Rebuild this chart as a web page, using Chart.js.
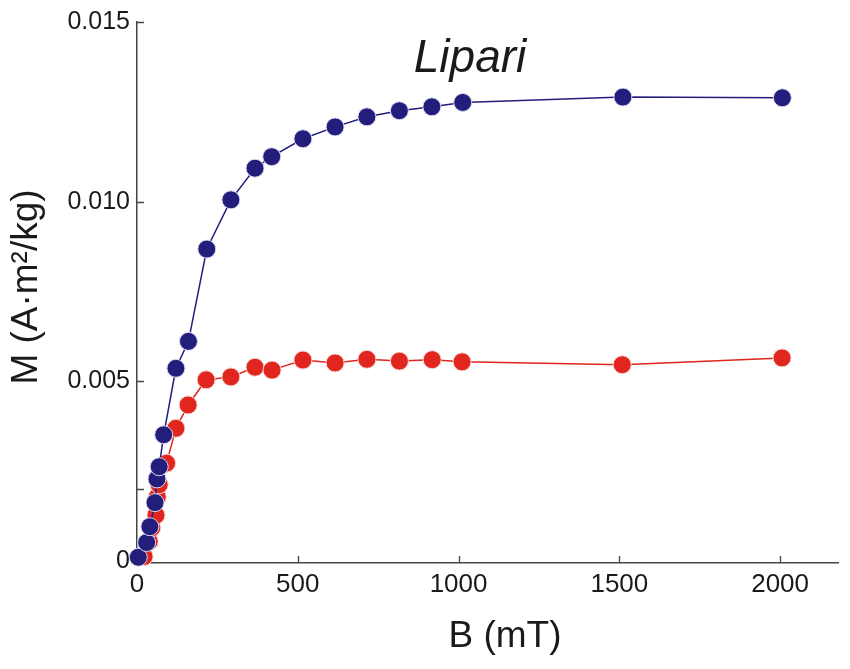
<!DOCTYPE html>
<html>
<head>
<meta charset="utf-8">
<script src="https://cdn.jsdelivr.net/npm/chart.js@4.4.1/dist/chart.umd.min.js"></script>
<style>
  html, body { margin: 0; padding: 0; background: #fff; }
  #wrap { width: 850px; height: 669px; position: relative; }
</style>
</head>
<body>
<div id="wrap"><canvas id="chart"></canvas></div>
<script>
// field values (mT) and magnetisation (A·m²/kg)
const fieldBlue = [4, 30, 40, 56, 62, 69, 83, 121, 160, 217, 292, 367, 419, 516, 616, 715, 816, 917, 1013, 1511, 2007];
const momentBlue = [0.0001, 0.00051, 0.00095, 0.00162, 0.00228, 0.00262, 0.00351, 0.00536, 0.00611, 0.00868, 0.01005,
  0.01093, 0.01125, 0.01175, 0.01208, 0.01236, 0.01253, 0.01264, 0.01276, 0.01291, 0.01289];
const fieldRed = [22, 38, 46, 59, 63, 69, 92, 121, 159, 215, 292, 367, 420, 516, 616, 715, 816, 918, 1011, 1509, 2006];
const momentRed = [0.00012, 0.00054, 0.00092, 0.00127, 0.00178, 0.00212, 0.00272, 0.00369, 0.00434, 0.00504, 0.00512,
  0.00539, 0.00531, 0.00559, 0.00551, 0.00561, 0.00556, 0.00560, 0.00554, 0.00546, 0.00565];

const xTicks = [0, 500, 1000, 1500, 2000];
const yTicks = [0, 0.002, 0.005, 0.010, 0.015];
const yLabelled = [0, 0.005, 0.010, 0.015];

const titleText = 'Lipari';
const xTitle = 'B (mT)';
const yTitle = 'M (A\u00b7m\u00b2/kg)';

const FONT = "'Liberation Sans', Arial, sans-serif";
const AXIS = '#444';

const toPoints = (xs, ys) => xs.map((x, i) => ({ x: x, y: ys[i] }));

// inward tick marks + texts drawn on the canvas
const extras = {
  id: 'extras',
  beforeDatasetsDraw(chart) {
    const { ctx, scales: { x, y } } = chart;
    ctx.save();
    ctx.strokeStyle = AXIS;
    ctx.lineWidth = 1.3;
    ctx.beginPath();
    xTicks.forEach(v => {
      if (v === 0) return;
      const px = Math.round(x.getPixelForValue(v)) + 0.5;
      ctx.moveTo(px, y.bottom);
      ctx.lineTo(px, y.bottom - 7);
    });
    yTicks.forEach(v => {
      if (v === 0) return;
      const py = Math.round(y.getPixelForValue(v)) + 0.5;
      ctx.moveTo(x.left, py);
      ctx.lineTo(x.left + 7, py);
    });
    ctx.stroke();
    ctx.restore();
  },
  afterDraw(chart) {
    const { ctx } = chart;
    ctx.save();
    ctx.fillStyle = '#1a1a1a';
    ctx.font = 'italic 46px ' + FONT;
    ctx.textAlign = 'center';
    ctx.textBaseline = 'alphabetic';
    ctx.fillText(titleText, 470, 72);

    ctx.font = '37px ' + FONT;
    ctx.textBaseline = 'middle';
    ctx.fillText(xTitle, 505, 637);

    ctx.translate(27, 287);
    ctx.rotate(-Math.PI / 2);
    ctx.fillText(yTitle, 0, 0);
    ctx.restore();
  }
};

new Chart(document.getElementById('chart'), {
  type: 'scatter',
  data: {
    datasets: [
      {
        label: 'blue',
        data: toPoints(fieldBlue, momentBlue),
        showLine: true,
        clip: false,
        borderColor: '#231d7c',
        borderWidth: 1.5,
        backgroundColor: '#231d7c',
        pointBackgroundColor: '#231d7c',
        pointBorderColor: '#ddd8ee',
        pointBorderWidth: 1,
        pointRadius: 9,
        tension: 0
      },
      {
        label: 'red',
        data: toPoints(fieldRed, momentRed),
        showLine: true,
        clip: false,
        borderColor: '#e0261e',
        borderWidth: 1.5,
        backgroundColor: '#e0261e',
        pointBackgroundColor: '#e0261e',
        pointBorderColor: '#f6d2cf',
        pointBorderWidth: 1,
        pointRadius: 9,
        tension: 0
      }
    ]
  },
  options: {
    responsive: true,
    maintainAspectRatio: false,
    animation: false,
    layout: { padding: { top: 22, right: 12, left: 0, bottom: 0 } },
    plugins: {
      legend: { display: false },
      tooltip: { enabled: false }
    },
    scales: {
      x: {
        type: 'linear',
        min: 0,
        max: 2180,
        afterBuildTicks: s => { s.ticks = xTicks.map(v => ({ value: v })); },
        afterFit: s => { s.height = 106; },
        grid: { display: false, drawTicks: false },
        border: { display: true, color: AXIS, width: 1.5 },
        ticks: {
          padding: 6,
          color: '#1a1a1a',
          font: { family: FONT, size: 26 },
          maxRotation: 0,
          callback: v => String(v)
        }
      },
      y: {
        type: 'linear',
        min: -0.00006,
        max: 0.015,
        afterBuildTicks: s => { s.ticks = yTicks.map(v => ({ value: v })); },
        afterFit: s => { s.width = 137; },
        grid: { display: false, drawTicks: false },
        border: { display: true, color: AXIS, width: 1.5 },
        ticks: {
          padding: 7,
          color: '#1a1a1a',
          font: { family: FONT, size: 25 },
          callback: v => {
            if (!yLabelled.some(t => Math.abs(t - v) < 1e-9)) return '';
            return v === 0 ? '0' : v.toFixed(3);
          }
        }
      }
    }
  },
  plugins: [extras]
});
</script>
</body>
</html>
